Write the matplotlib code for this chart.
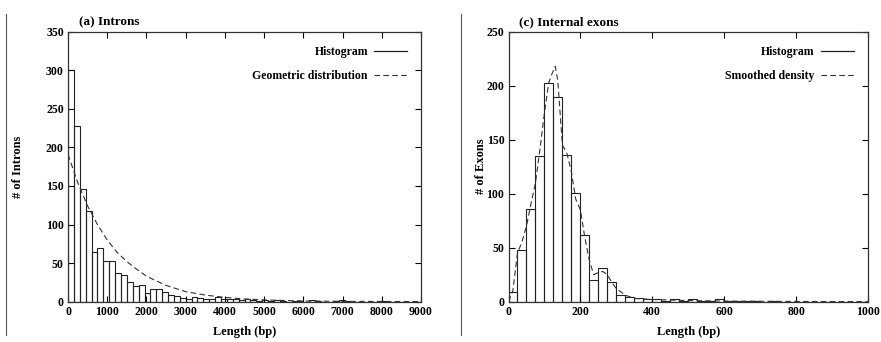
#!/usr/bin/env python3
"""Length histograms: (a) introns with geometric fit, (c) internal exons with smoothed density."""

import matplotlib

matplotlib.use("Agg")
import matplotlib.pyplot as plt
import numpy as np

plt.rcParams["font.family"] = ["Liberation Serif", "DejaVu Serif"]
plt.rcParams["font.weight"] = "bold"

# (a) introns: 150 bp bins starting at 0
INTRON_BIN = 150
intron_counts = [
    300, 228, 146, 118, 64, 69, 53, 53, 37, 34,
    26, 20, 22, 11, 17, 17, 12, 9, 7, 5,
    4, 6, 5, 3, 4, 6, 4, 3, 3, 2,
    3, 2, 1, 2, 1, 2, 1, 0, 1, 1,
    0, 2, 1, 0, 0, 1, 2, 1, 0, 0,
    0, 0, 0, 1, 0, 0, 0, 0, 0, 0,
]
geom_x = [0, 250, 500, 750, 1000, 1250, 1500, 1750, 2000, 2500, 3000, 3500, 4000, 4500, 5000, 6000, 7000, 8000, 9000]
geom_y = [191, 154, 124, 100, 80, 64, 52, 42, 33, 21, 13, 8.5, 5.5, 3.5, 2.2, 0.9, 0.4, 0.2, 0.1]

# (c) internal exons: 25 bp bins starting at 0
EXON_BIN = 25
exon_counts = [
    9, 48, 86, 135, 203, 190, 136, 101, 62, 20,
    31, 18, 6, 4, 3, 2, 2, 1, 2, 1,
    2, 1, 1, 2, 1, 1, 1, 1, 0, 1,
    0, 0, 0, 0, 0, 0, 0, 0, 0, 0,
    0, 0, 0, 0, 0, 0, 0, 0, 0, 0,
    0, 0, 0, 0, 0, 0, 0, 0, 0, 0,
    0, 0, 0, 0, 0, 0, 0, 0, 0, 0,
    0, 0, 0, 0, 0, 0, 0, 0, 0, 0,
    0, 0, 0, 0, 0, 0, 0, 0, 0, 0,
    0, 0, 0, 0, 0, 0, 0, 0, 0, 0,
]
dens_x = [0, 12, 25, 37, 50, 62, 75, 87, 100, 112, 122, 130, 137, 150, 162, 175, 187, 200,
          212, 225, 237, 250, 262, 275, 287, 300, 325, 350, 400, 500, 600, 800, 1000]
dens_y = [0, 10, 45, 55, 70, 90, 110, 140, 175, 203, 212, 218, 205, 145, 138, 120, 95, 85,
          60, 38, 25, 27, 28, 25, 18, 12, 6, 3, 2, 1, 0.5, 0.2, 0]


def style_axes(ax, xmax, ymax, xstep, ystep):
    ax.set_xlim(0, xmax)
    ax.set_ylim(0, ymax)
    ax.set_xticks(np.arange(0, xmax + 1, xstep))
    ax.set_yticks(np.arange(0, ymax + 1, ystep))
    ax.tick_params(direction="in", top=True, right=True, length=4, width=0.8,
                   labelsize=8.5, pad=3)
    for lab in ax.get_xticklabels() + ax.get_yticklabels():
        lab.set_fontweight("bold")
    for s in ax.spines.values():
        s.set_linewidth(0.9)
        s.set_color("#333333")


def draw_panel(ax, counts, binw, cx, cy, curve_label, title, ylabel, xmax, ymax, xstep, ylab_x):
    counts = np.asarray(counts)
    left = np.arange(len(counts)) * binw
    ax.bar(left, counts, width=binw, align="edge", fill=False,
           edgecolor="#222222", linewidth=0.8, label="Histogram")
    ax.plot(cx, cy, color="#333333", linestyle=(0, (5, 3)), linewidth=0.8, label=curve_label)
    style_axes(ax, xmax, ymax, xstep, 50)
    ax.set_xlabel("Length (bp)", fontsize=9, fontweight="bold")
    ax.xaxis.set_label_coords(0.5, -0.09)
    ax.set_ylabel(ylabel, fontsize=9, fontweight="bold")
    ax.yaxis.set_label_coords(ylab_x, 0.5)
    ax.text(0.03, 1.012, title, transform=ax.transAxes, fontsize=9.5,
            fontweight="bold", ha="left", va="bottom")
    # legend: text first, sample line after (gnuplot style)
    h_bar = plt.Line2D([], [], color="#222222", linewidth=0.9)
    h_cur = plt.Line2D([], [], color="#333333", linestyle=(0, (5, 3)), linewidth=0.8)
    leg = ax.legend([h_bar, h_cur], ["Histogram", curve_label], loc="upper right",
                    markerfirst=False, frameon=False, fontsize=8.5, handlelength=2.8,
                    labelspacing=1.0, borderaxespad=0.8, handletextpad=0.5)
    for t in leg.get_texts():
        t.set_fontweight("bold")


fig = plt.figure(figsize=(8.81, 3.42), dpi=100)
ax1 = fig.add_axes([0.0772, 0.118, 0.4007, 0.789])
ax2 = fig.add_axes([0.5772, 0.118, 0.408, 0.789])

draw_panel(ax1, intron_counts, INTRON_BIN, geom_x, geom_y, "Geometric distribution",
           "(a) Introns", "# of Introns", 9000, 350, 1000, -0.125)
draw_panel(ax2, exon_counts, EXON_BIN, dens_x, dens_y, "Smoothed density",
           "(c) Internal exons", "# of Exons", 1000, 250, 200, -0.06)

# page rules from the scanned figure
for xf in (6 / 881, 461 / 881):
    fig.add_artist(plt.Line2D([xf, xf], [0.02, 0.96], transform=fig.transFigure,
                              color="#555555", linewidth=0.8))

fig.savefig("out.png", dpi=100)
